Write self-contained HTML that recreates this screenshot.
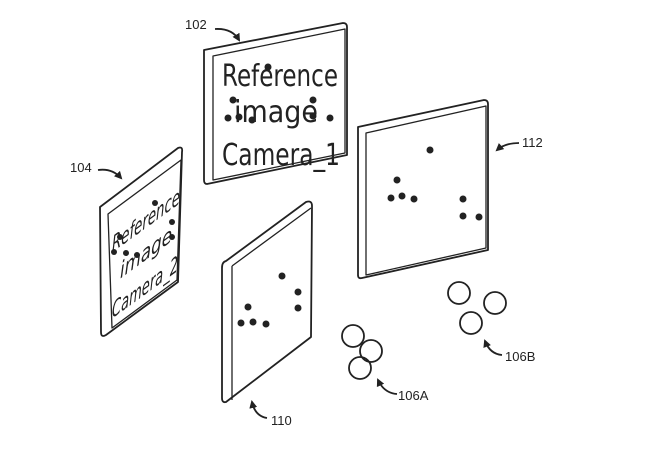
<!DOCTYPE html>
<html><head><meta charset="utf-8"><style>html,body{margin:0;padding:0;background:#fff}svg{display:block}</style></head>
<body>
<svg width="658" height="466" viewBox="0 0 658 466" xmlns="http://www.w3.org/2000/svg" font-family="Liberation Sans, sans-serif">
<defs><marker id="ah" markerWidth="8" markerHeight="8" refX="6" refY="4" orient="auto" markerUnits="userSpaceOnUse"><path d="M0,0 L8,4 L0,8 Z" fill="#222"/></marker></defs>
<g fill="none" stroke="#222" stroke-width="1.8" stroke-linejoin="round">
<path d="M204,50 L343,23 Q347,23 347,27 L347,155 L207,184 Q204,184 204,180 Z"/>
<path d="M213,56 L345,29 L345,153 L213,180 Z" stroke-width="1.3"/>
<path d="M100,207 L178,148 Q183,146 182,152 L178,282 L106,335 Q101,338 101,332 Z"/>
<path d="M108,214 L181,160 L177,280 L112,328 Z" stroke-width="1.3"/>
<path d="M222,268 Q222,262 226,261 L306,202 Q312,200 312,206 L311,337 L226,402 Q222,403 222,398 Z"/>
<path d="M232,266 L311,208 M232,266 L232,400" stroke-width="1.3"/>
<path d="M358,127 L484,100 Q488,100 488,104 L488,250 L362,278 Q358,279 358,275 Z"/>
<path d="M366,133 L486,106 L486,248 L366,275 Z" stroke-width="1.3"/>
<circle cx="459" cy="293" r="11"/><circle cx="495" cy="303" r="11"/><circle cx="471" cy="323" r="11"/>
<circle cx="353" cy="336" r="11"/><circle cx="371" cy="351" r="11"/><circle cx="360" cy="368" r="11"/>
<path d="M215,29 Q232,28 239,40" marker-end="url(#ah)"/>
<path d="M98,170 Q112,168 121,178" marker-end="url(#ah)"/>
<path d="M519,143 Q505,143 497,150" marker-end="url(#ah)"/>
<path d="M267,418 Q255,416 252,402" marker-end="url(#ah)"/>
<path d="M397,394 Q384,393 378,380" marker-end="url(#ah)"/>
<path d="M502,355 Q490,354 485,341" marker-end="url(#ah)"/>
</g>
<g font-size="13" fill="#222">
<text x="185" y="29">102</text>
<text x="70" y="172">104</text>
<text x="522" y="147">112</text>
<text x="271" y="425">110</text>
<text x="398" y="400">106A</text>
<text x="505" y="361">106B</text>
</g>
<g fill="#222" font-family="DejaVu Sans, sans-serif">
<text x="222" y="86" font-size="30" textLength="116" lengthAdjust="spacingAndGlyphs">Reference</text>
<text x="234" y="122" font-size="30" textLength="84" lengthAdjust="spacingAndGlyphs">image</text>
<text x="222" y="165" font-size="30" textLength="118" lengthAdjust="spacingAndGlyphs">Camera_1</text>
</g>
<g fill="#222">
<circle cx="268" cy="67" r="3.5"/><circle cx="233" cy="100" r="3.5"/><circle cx="228" cy="118" r="3.5"/><circle cx="239" cy="117" r="3.5"/><circle cx="252" cy="120" r="3.5"/><circle cx="313" cy="100" r="3.5"/><circle cx="313" cy="116" r="3.5"/><circle cx="330" cy="118" r="3.5"/>
</g>
<g transform="translate(110,214) skewY(-36)" fill="#222" font-family="DejaVu Sans, sans-serif" font-style="italic">
<text x="2" y="40" font-size="22" textLength="68" lengthAdjust="spacingAndGlyphs">Reference</text>
<text x="10" y="72" font-size="22" textLength="52" lengthAdjust="spacingAndGlyphs">image</text>
<text x="2" y="106" font-size="22" textLength="66" lengthAdjust="spacingAndGlyphs">Camera_2</text>
</g>
<g fill="#222">
<circle cx="155" cy="203" r="3"/><circle cx="120" cy="237" r="3"/><circle cx="114" cy="252" r="3"/><circle cx="126" cy="253" r="3"/><circle cx="137" cy="255" r="3"/><circle cx="172" cy="222" r="3"/><circle cx="172" cy="237" r="3"/>
<circle cx="282" cy="276" r="3.5"/><circle cx="298" cy="292" r="3.5"/><circle cx="298" cy="308" r="3.5"/><circle cx="248" cy="307" r="3.5"/><circle cx="241" cy="323" r="3.5"/><circle cx="253" cy="322" r="3.5"/><circle cx="266" cy="324" r="3.5"/>
<circle cx="430" cy="150" r="3.5"/><circle cx="397" cy="180" r="3.5"/><circle cx="391" cy="198" r="3.5"/><circle cx="402" cy="196" r="3.5"/><circle cx="414" cy="199" r="3.5"/><circle cx="463" cy="199" r="3.5"/><circle cx="463" cy="216" r="3.5"/><circle cx="479" cy="217" r="3.5"/>
</g>
</svg>
</body></html>
